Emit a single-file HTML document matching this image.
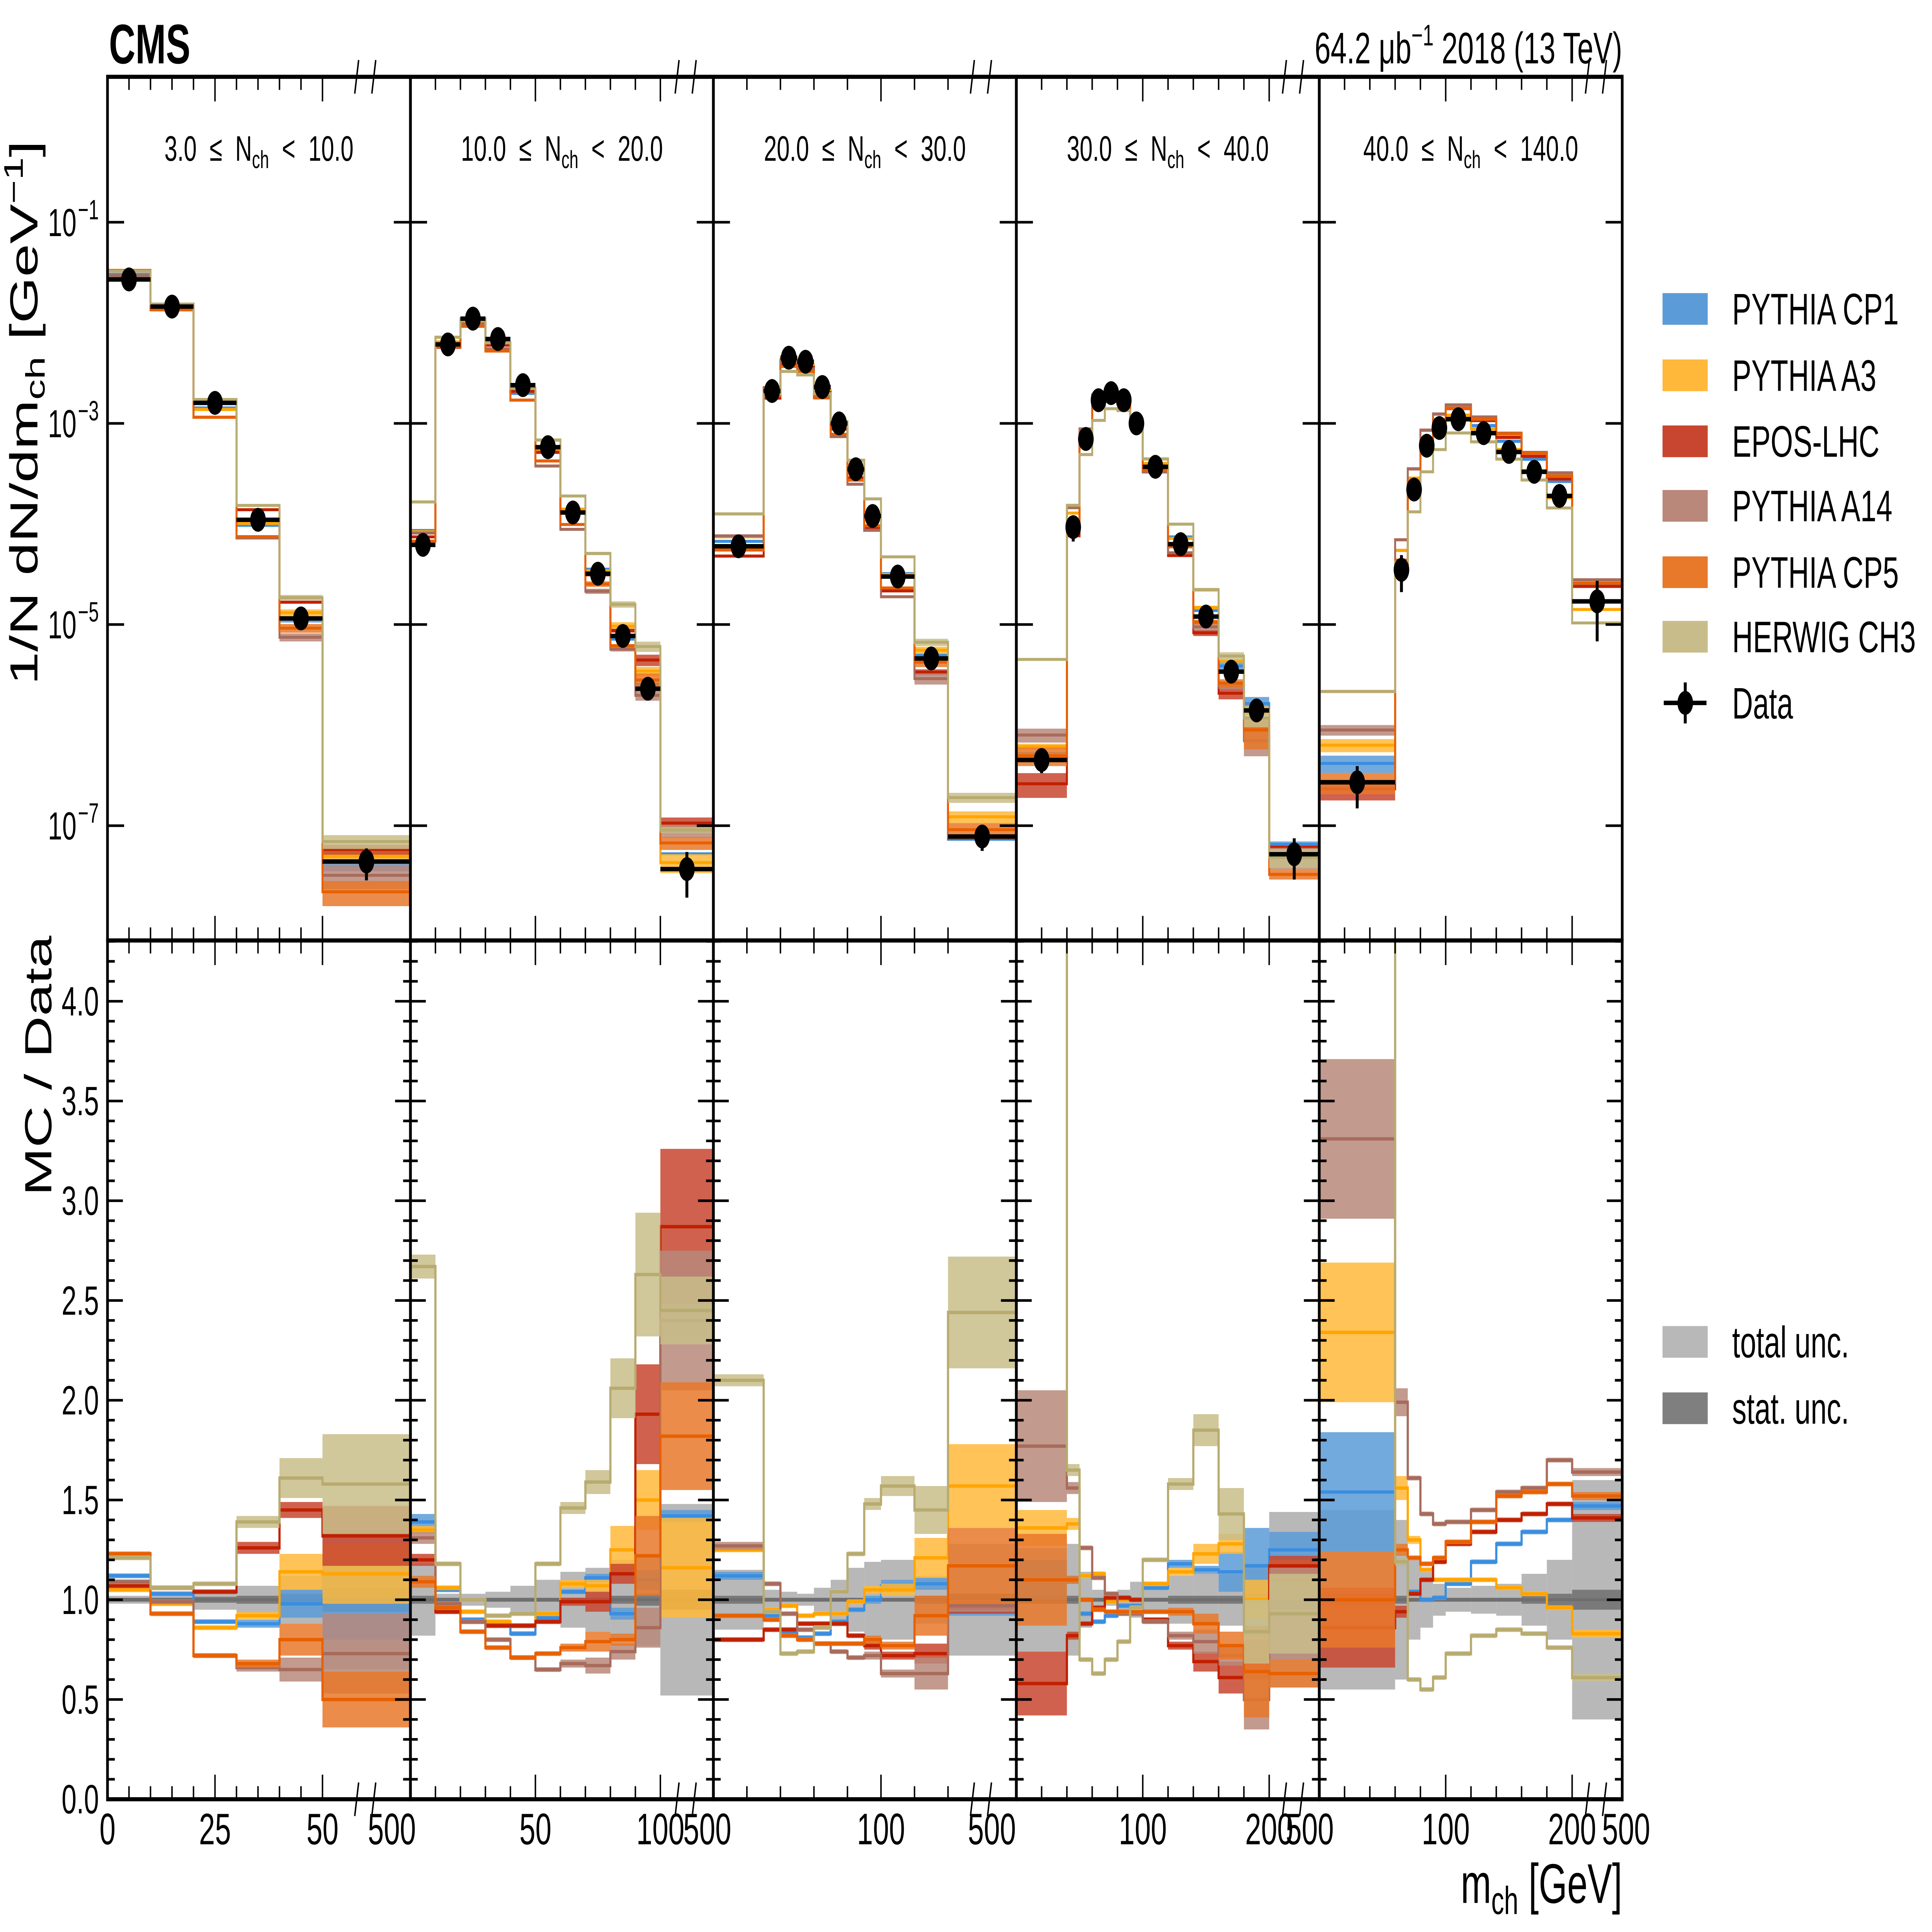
<!DOCTYPE html>
<html><head><meta charset="utf-8">
<style>
html,body{margin:0;padding:0;background:#fff;overflow:hidden;width:100%;height:100%;}
svg{display:block;position:absolute;left:0;top:0;width:100%;height:100%;font-family:"Liberation Sans",Arial,sans-serif;}
text{white-space:pre;}
</style></head>
<body>
<svg id="chart" xmlns="http://www.w3.org/2000/svg" viewBox="0 0 7908 5181" preserveAspectRatio="none" overflow="hidden">
<rect x="0" y="0" width="7908" height="5181" fill="#fff"/>
<text x="446" y="170" font-size="150" font-weight="bold">CMS</text>
<text x="6640" y="170" font-size="118" text-anchor="end">64.2 μb<tspan font-size="80" dy="-48">−1</tspan><tspan dy="48"> 2018 (13 TeV)</tspan></text>
<text transform="translate(153,1107) rotate(-90)" font-size="160" text-anchor="middle">1/N dN/dm<tspan font-size="110" dy="30">ch</tspan><tspan dy="-30"> [GeV</tspan><tspan font-size="110" dy="-60">−1</tspan><tspan dy="60">]</tspan></text>
<text transform="translate(210,2858) rotate(-90)" font-size="155" text-anchor="middle">MC / Data</text>
<text x="6640" y="5103" font-size="150" text-anchor="end">m<tspan font-size="105" dy="30">ch</tspan><tspan dy="-30"> [GeV]</tspan></text>
<defs id="defs"></defs>
</svg>
<script>
// ---------- data ----------
const edges = [
  [0,10,20,30,40,50,500],
  [0,10,20,30,40,50,60,70,80,90,100,500],
  [0,30,40,50,60,70,80,90,100,120,140,500],
  [0,40,50,60,70,80,90,100,120,140,160,180,200,500],
  [0,60,70,80,90,100,120,140,160,180,200,500]
];
const titles = ["3.0","10.0","20.0","30.0","40.0"];
const titlesHi = ["10.0","20.0","30.0","40.0","140.0"];
const dataVals = [
  [0.027,0.0145,1.6e-3,1.1e-4,1.15e-5,4.4e-8],
  [6.2e-5,6.1e-3,0.011,6.9e-3,2.4e-3,5.8e-4,1.3e-4,3.2e-5,7.7e-6,2.3e-6,3.7e-8],
  [6e-5,2.1e-3,4.5e-3,4.1e-3,2.3e-3,1e-3,3.5e-4,1.2e-4,3e-5,4.6e-6,7.8e-8],
  [4.5e-7,9.3e-5,7e-4,1.7e-3,2e-3,1.7e-3,1e-3,3.7e-4,6.3e-5,1.2e-5,3.4e-6,1.4e-6,5.2e-8],
  [2.7e-7,3.5e-5,2.2e-4,6e-4,9e-4,1.1e-3,8e-4,5.2e-4,3.3e-4,1.9e-4,1.7e-5]
];
const totUnc = [
  [0.02,0.02,0.05,0.07,0.12,0.35],
  [0.18,0.03,0.03,0.04,0.07,0.1,0.14,0.16,0.2,0.23,0.48],
  [0.15,0.05,0.04,0.03,0.06,0.1,0.16,0.19,0.2,0.12,0.28],
  [0.26,0.28,0.14,0.05,0.03,0.05,0.09,0.07,0.12,0.13,0.13,0.18,0.44],
  [0.45,0.4,0.2,0.14,0.08,0.06,0.07,0.08,0.13,0.2,0.6]
];
const statUnc = [
  [0.01,0.01,0.015,0.02,0.03,0.06],
  [0.02,0.01,0.01,0.01,0.01,0.01,0.01,0.01,0.02,0.03,0.05],
  [0.02,0.01,0.01,0.01,0.01,0.01,0.01,0.01,0.01,0.02,0.03],
  [0.02,0.02,0.01,0.01,0.01,0.01,0.01,0.01,0.02,0.02,0.02,0.03,0.05],
  [0.03,0.02,0.01,0.01,0.01,0.01,0.01,0.01,0.02,0.03,0.05]
];
const ratioCP1 = [
  [1.12,1.03,0.89,0.88,0.98,1.0],
  [1.39,1.05,0.9,0.88,0.83,0.91,1.04,1.11,0.93,1.1,1.42],
  [1.12,0.92,0.83,0.81,0.83,0.89,0.95,1.0,1.07,1.08,0.94],
  [1.1,1.1,0.93,0.89,0.92,0.97,0.97,1.06,1.18,1.15,1.14,1.17,1.25],
  [1.54,1.19,1.04,1.0,1.01,1.08,1.19,1.28,1.34,1.4,1.47]
];
const uncCP1 = [
  [0.01,0.01,0.01,0.02,0.07,0.2],
  [0.04,0.01,0.01,0.01,0.01,0.01,0.01,0.02,0.03,0.05,0.03],
  [0.02,0.01,0.01,0.01,0.01,0.01,0.01,0.02,0.03,0.03,0.02],
  [0.1,0.02,0.01,0.01,0.01,0.01,0.01,0.01,0.02,0.02,0.1,0.19,0.09],
  [0.3,0.02,0.01,0.01,0.01,0.01,0.01,0.01,0.01,0.01,0.02]
];
const ratioA3 = [
  [1.05,0.98,0.86,0.92,1.14,1.13],
  [1.35,1.06,0.94,0.89,0.87,0.93,1.08,1.07,1.25,1.5,1.16],
  [1.25,0.95,0.97,0.92,0.93,0.93,0.99,1.05,1.05,1.21,1.57],
  [1.36,1.38,1.12,1.13,0.99,1.0,1.0,1.08,1.14,1.23,1.28,1.0,1.1],
  [2.34,1.56,1.3,1.15,1.1,1.1,1.1,1.06,1.03,0.96,0.83]
];
const uncA3 = [
  [0.01,0.01,0.01,0.02,0.09,0.15],
  [0.02,0.01,0.01,0.01,0.01,0.01,0.02,0.03,0.12,0.15,0.25],
  [0.01,0.01,0.01,0.01,0.01,0.01,0.01,0.02,0.03,0.1,0.21],
  [0.09,0.03,0.01,0.01,0.01,0.01,0.01,0.01,0.02,0.05,0.05,0.1,0.1],
  [0.35,0.06,0.02,0.01,0.01,0.01,0.01,0.01,0.01,0.01,0.02]
];
const ratioEPOS = [
  [1.07,1.06,1.04,1.26,1.45,1.32],
  [1.2,0.94,0.89,0.87,0.87,0.89,0.99,0.99,1.13,1.93,2.87],
  [0.8,0.85,0.85,0.88,0.88,0.88,0.82,0.77,0.72,0.73,0.96],
  [0.58,0.82,0.88,0.96,1.01,1.01,1.0,0.9,0.77,0.69,0.61,0.7,1.17],
  [0.86,0.94,1.03,1.1,1.19,1.28,1.34,1.4,1.43,1.48,1.41]
];
const uncEPOS = [
  [0.01,0.01,0.01,0.03,0.04,0.15],
  [0.03,0.01,0.01,0.01,0.01,0.01,0.02,0.05,0.05,0.25,0.39],
  [0.01,0.01,0.01,0.01,0.01,0.01,0.01,0.02,0.02,0.05,0.03],
  [0.16,0.02,0.01,0.01,0.01,0.01,0.01,0.01,0.02,0.05,0.08,0.1,0.05],
  [0.2,0.03,0.01,0.01,0.01,0.01,0.01,0.01,0.01,0.01,0.02]
];
const ratioA14 = [
  [1.09,0.99,0.72,0.66,0.65,0.73],
  [1.31,0.98,0.89,0.8,0.71,0.65,0.68,0.67,0.74,0.86,2.4],
  [1.27,1.08,0.93,0.85,0.78,0.74,0.71,0.72,0.63,0.63,0.97],
  [1.77,1.56,1.26,1.11,1.03,0.93,0.93,0.89,0.82,0.79,0.72,0.5,0.93],
  [3.31,1.99,1.61,1.43,1.38,1.39,1.45,1.54,1.56,1.7,1.64]
];
const uncA14 = [
  [0.01,0.01,0.01,0.02,0.06,0.2],
  [0.03,0.01,0.01,0.01,0.01,0.01,0.02,0.04,0.04,0.1,0.35],
  [0.02,0.01,0.01,0.01,0.01,0.01,0.01,0.02,0.02,0.08,0.03],
  [0.28,0.03,0.01,0.01,0.01,0.01,0.01,0.01,0.02,0.06,0.05,0.15,0.23],
  [0.4,0.07,0.01,0.01,0.01,0.01,0.01,0.01,0.01,0.01,0.02]
];
const ratioCP5 = [
  [1.23,0.93,0.72,0.68,0.8,0.5],
  [1.09,0.96,0.84,0.76,0.71,0.73,0.76,0.79,0.8,1.22,1.82],
  [0.92,0.9,0.82,0.8,0.78,0.78,0.78,0.8,0.77,0.92,1.17],
  [1.1,1.1,1.0,0.95,0.94,0.94,0.94,0.94,0.94,0.88,0.77,0.64,0.63],
  [1.0,1.25,1.21,1.18,1.21,1.29,1.39,1.52,1.54,1.58,1.52]
];
const uncCP5 = [
  [0.01,0.01,0.01,0.02,0.08,0.14],
  [0.03,0.01,0.01,0.01,0.01,0.01,0.02,0.05,0.03,0.2,0.27],
  [0.01,0.01,0.01,0.01,0.01,0.01,0.01,0.02,0.02,0.1,0.19],
  [0.23,0.02,0.01,0.01,0.01,0.01,0.01,0.01,0.02,0.05,0.07,0.23,0.07],
  [0.24,0.03,0.01,0.01,0.01,0.01,0.01,0.01,0.01,0.01,0.02]
];
const ratioCH3 = [
  [1.21,1.06,1.08,1.39,1.61,1.58],
  [2.67,1.18,1.0,0.92,0.93,1.18,1.46,1.59,2.06,2.63,2.45],
  [2.1,0.94,0.73,0.74,0.86,1.04,1.23,1.48,1.57,1.45,2.44],
  [10,1.65,0.7,0.63,0.7,0.79,0.96,1.2,1.58,1.85,1.43,0.84,0.93],
  [8,1.19,0.6,0.55,0.61,0.73,0.82,0.85,0.83,0.76,0.61]
];
const uncCH3 = [
  [0.01,0.01,0.01,0.03,0.1,0.25],
  [0.06,0.01,0.01,0.01,0.01,0.01,0.03,0.06,0.15,0.31,0.17],
  [0.03,0.01,0.01,0.01,0.01,0.01,0.01,0.03,0.05,0.12,0.28],
  [0.3,0.03,0.01,0.01,0.01,0.01,0.01,0.01,0.03,0.08,0.13,0.16,0.2],
  [0.3,0.02,0.01,0.01,0.01,0.01,0.01,0.01,0.01,0.01,0.02]
];
const genNames = ["PYTHIA CP1","PYTHIA A3","EPOS-LHC","PYTHIA A14","PYTHIA CP5","HERWIG CH3"];
const xMajorLabels = [[0,25,50],[50,100],[100],[100,200],[100,200]];
const yRatioLabels = ["0.0","0.5","1.0","1.5","2.0","2.5","3.0","3.5","4.0"];
const yLogTicks = [-1,-3,-5,-7];

// ---------- styles / geometry ----------
const gens = [
  {r:ratioCP1,u:uncCP1,band:'#5b9bd8',line:'#3a8ee0',id:'cp1'},
  {r:ratioA3,u:uncA3,band:'#ffb83a',line:'#ffa500',id:'a3'},
  {r:ratioEPOS,u:uncEPOS,band:'#c8452f',line:'#c02000',id:'epos'},
  {r:ratioA14,u:uncA14,band:'#b9887a',line:'#a86b5c',id:'a14'},
  {r:ratioCP5,u:uncCP5,band:'#e8782a',line:'#e86000',id:'cp5'},
  {r:ratioCH3,u:uncCH3,band:'#c8bd8a',line:'#b8ab70',id:'ch3'}
];
const scales = [17.6,10.23,6.86,5.175,5.175];
const minorStep = [5,10,20,20,20];
const lbl500Off = [-76,-25,-100,-39,16];
const PL=440, PW=1240, UT=206, UB=2522, LB=4825;
const NS='http://www.w3.org/2000/svg';
const svg=document.getElementById('chart');
const defs=document.getElementById('defs');
function mk(tag, attrs, parent){const e=document.createElementNS(NS,tag);for(const k in attrs)e.setAttribute(k,attrs[k]);(parent||svg).appendChild(e);return e;}
function clamp(v,a,b){return Math.min(b,Math.max(a,v));}
function yU(v){return clamp(596+(-1-Math.log10(v))*269.7, UT-10, UB+10);}
function yL(r){return clamp(LB-r*535, UB-10, LB+10);}
function xM(p,m){const e=edges[p];const last=e[e.length-2];const L=PL+PW*p;const s=scales[p];
  if(m<=last) return L+m*s; return L+last*s+(m-last)/(500-last)*(PW-last*s);}

for(let p=0;p<5;p++){
  const L=PL+PW*p, R=L+PW, e=edges[p], n=e.length-1;
  const cu=mk('clipPath',{id:'cu'+p},defs);
  mk('rect',{x:L,y:UT,width:PW,height:UB-UT},cu);
  const cl=mk('clipPath',{id:'cl'+p},defs);
  mk('rect',{x:L,y:UB,width:PW,height:LB-UB},cl);
  const gU=mk('g',{'clip-path':'url(#cu'+p+')'});
  
  
  const gL=mk('g',{'clip-path':'url(#cl'+p+')'});
  
  
  for(let j=0;j<n;j++){
    const x0=xM(p,e[j]),x1=xM(p,e[j+1]);
    const t=totUnc[p][j], s=statUnc[p][j];
    const rt=mk('rect',{x:x0,y:yL(1+t),width:x1-x0,height:yL(1-t)-yL(1+t),fill:'#b8b8b8'},gL);
    
    
    const rs=mk('rect',{x:x0,y:yL(1+s),width:x1-x0,height:Math.max(6,yL(1-s)-yL(1+s)),fill:'#7a7a7a'},gL);
    
    
  }
  const ln=mk('line',{x1:L,x2:R,y1:yL(1),y2:yL(1),stroke:'#6e6e6e','stroke-width':8},gL);
  
  
  gens.forEach(g=>{
    for(let j=0;j<n;j++){
      const x0=xM(p,e[j]),x1=xM(p,e[j+1]);
      const r=g.r[p][j],u=Math.max(g.u[p][j],0.012);
      const bl=mk('rect',{x:x0,y:yL(r+u),width:x1-x0,height:Math.max(0,yL(r-u)-yL(r+u)),fill:g.band,'fill-opacity':0.85},gL);
      
      
      const d=dataVals[p][j];
      const lo=Math.max(r-u,0.02);
      const bu=mk('rect',{x:x0,y:yU(d*(r+u)),width:x1-x0,height:Math.max(6,yU(d*lo)-yU(d*(r+u))),fill:g.band,'fill-opacity':0.85},gU);
      
      
    }
    let dl='',du='';
    for(let j=0;j<n;j++){
      const x0=xM(p,e[j]),x1=xM(p,e[j+1]);const r=g.r[p][j];
      const yl=yL(r), yu=yU(dataVals[p][j]*r);
      dl+=(j===0?'M'+x0+','+yl:'V'+yl)+'H'+x1;
      du+=(j===0?'M'+x0+','+yu:'V'+yu)+'H'+x1;
    }
    const pl=mk('path',{d:dl,fill:'none',stroke:g.line,'stroke-width':9},gL);
    
    
    const pu=mk('path',{d:du,fill:'none',stroke:g.line,'stroke-width':8},gU);
    
    
  });
  for(let j=0;j<n;j++){
    const x0=xM(p,e[j]),x1=xM(p,e[j+1]),xc=(x0+x1)/2;
    const d=dataVals[p][j],t=totUnc[p][j];
    const eh=mk('line',{x1:x0,x2:x1,y1:yU(d),y2:yU(d),stroke:'#000','stroke-width':12},gU);
    
    
    const ev=mk('line',{x1:xc,x2:xc,y1:yU(d*(1+t)),y2:yU(d*Math.max(1-t,0.05)),stroke:'#000','stroke-width':12},gU);
    
    
    const c=mk('circle',{cx:xc,cy:yU(d),r:32,fill:'#000'},gU);
    
    
  }
  const fu=mk('rect',{x:L,y:UT,width:PW,height:UB-UT,fill:'none',stroke:'#000','stroke-width':11});
  
  
  const fl=mk('rect',{x:L,y:UB,width:PW,height:LB-UB,fill:'none',stroke:'#000','stroke-width':11});
  
  
  yLogTicks.forEach(k=>{const y=yU(Math.pow(10,k));
    const t1=mk('path',{d:'M'+L+','+y+'h68M'+R+','+y+'h-68',stroke:'#000','stroke-width':7});
    
    });
  for(let k=1;k<=43;k++){const y=yL(k/10);const len=(k%5===0)?63:30;
    const t2=mk('path',{d:'M'+L+','+y+'h'+len+'M'+R+','+y+'h-'+len,stroke:'#000','stroke-width':7});
    
    }
  const last=e[n-1];const mj=(p===0)?25:((p===1)?50:100);
  for(let m=minorStep[p];m<=last;m+=minorStep[p]){
    const x=xM(p,m);const len=(m%mj===0)?66:35;
    const t3=mk('path',{d:'M'+x+','+UT+'v'+len+'M'+x+','+UB+'v-'+len+'M'+x+','+UB+'v'+len+'M'+x+','+LB+'v-'+len,stroke:'#000','stroke-width':6});
    
    
  }
  const xb=(xM(p,last)+R)/2;
  [UT,LB].forEach(yy=>{
    const bm=mk('path',{d:'M'+(xb-48)+','+(yy+45)+'l16,-90M'+(xb+22)+','+(yy+45)+'l16,-90',stroke:'#000','stroke-width':6,fill:'none'});
    
    
  });
  xMajorLabels[p].forEach(m=>{
    const tl=mk('text',{x:xM(p,m),y:4946,'font-size':118,'text-anchor':'middle'});
    tl.textContent=String(m);
    
    
  });
  const t5=mk('text',{x:R+lbl500Off[p],y:4946,'font-size':118,'text-anchor':'middle'});
  t5.textContent='500';
  
  
  const tt=mk('text',{x:L+PW/2,y:431,'font-size':95,'text-anchor':'middle'});
  
  
  const s1=mk('tspan',{},tt);s1.textContent=titles[p]+'  ≤  N';
  const s2=mk('tspan',{'font-size':66,dy:20},tt);s2.textContent='ch';
  const s3=mk('tspan',{dy:-20},tt);s3.textContent='  <  '+titlesHi[p];
}
yLogTicks.forEach(k=>{
  const t=mk('text',{x:313,y:yU(Math.pow(10,k))+37,'font-size':105,'text-anchor':'end'});
  
  
  t.textContent='10';
  const sp=mk('tspan',{x:319,dy:-45,'font-size':75,'text-anchor':'start'},t);
  sp.textContent='−'+(-k);
});
yRatioLabels.forEach((s,i)=>{
  const t=mk('text',{x:405,y:yL(i*0.5)+38,'font-size':110,'text-anchor':'end'});
  t.textContent=s;
  
  
});
const legRows=[828,1006,1183,1356,1534,1707];
gens.forEach((g,i)=>{
  const r=mk('rect',{x:6805,y:legRows[i]-42,width:185,height:85,fill:g.band});
  
  
  const t=mk('text',{x:7090,y:legRows[i]+42,'font-size':118});
  t.textContent=genNames[i];
  
  
});
const dl1=mk('path',{d:'M6810,1885H6985M6898,1830V1940',stroke:'#000','stroke-width':12});


const dc=mk('circle',{cx:6898,cy:1885,r:32,fill:'#000'});


const dt=mk('text',{x:7090,y:1927,'font-size':118});
dt.textContent='Data';


const tr=mk('rect',{x:6805,y:3556,width:185,height:85,fill:'#b8b8b8'});


const tx=mk('text',{x:7090,y:3640,'font-size':118});
tx.textContent='total unc.';


const sr=mk('rect',{x:6805,y:3734,width:185,height:85,fill:'#7f7f7f'});


const sx=mk('text',{x:7090,y:3818,'font-size':118});
sx.textContent='stat. unc.';


</script>
</body></html>
